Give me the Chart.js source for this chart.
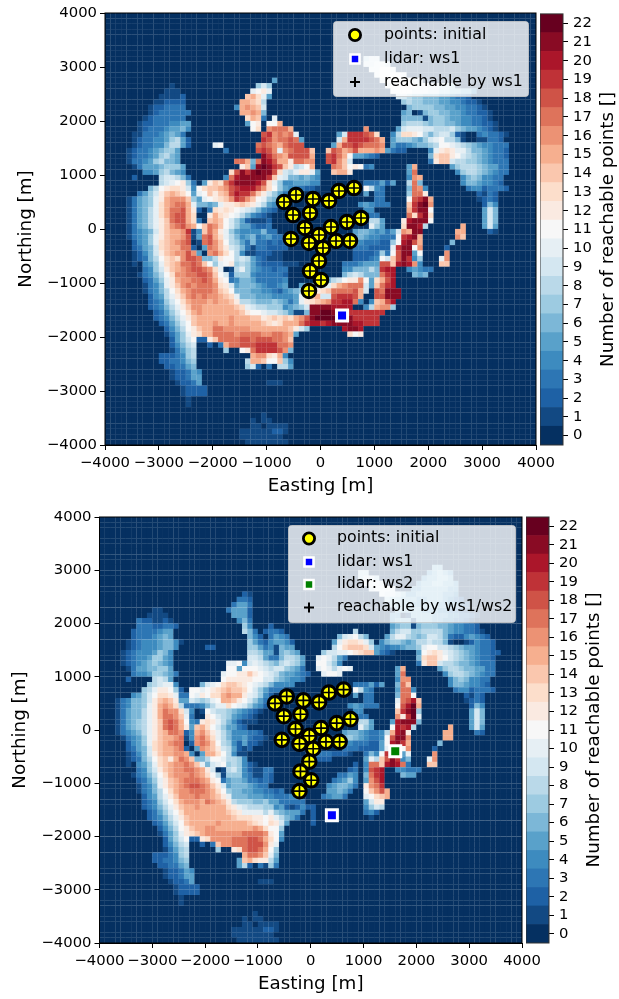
<!DOCTYPE html>
<html>
<head>
<meta charset="utf-8">
<script src="https://cdn.jsdelivr.net/npm/chart.js@4/dist/chart.umd.min.js"></script>
<style>
  body { margin: 0; background: #fff; width: 619px; height: 999px; position: relative; overflow: hidden; }
  canvas { position: absolute; }
</style>
</head>
<body>
<canvas id="mapTop" width="619" height="497" style="left:0;top:0"></canvas>
<canvas id="barTop" width="79" height="460" style="left:540px;top:0"></canvas>
<canvas id="mapBottom" width="619" height="499" style="left:0;top:500px"></canvas>
<canvas id="barBottom" width="93" height="460" style="left:526px;top:500px"></canvas>
<script>
// measurement points and lidar positions [m]
const pointsEast = [-677, -455, -140, 158, 343, 622, 752, 492, -510, -195, -288, 195, -28, -548, -214, 288, 46, 547, -28, -195, 9, -214];
const pointsNorth = [500, 630, 556, 519, 704, 759, 204, 130, 259, 296, 19, 37, -111, -185, -259, -222, -352, -222, -593, -778, -944, -1148];
const lidarWs1 = [{ x: 400, y: -1600 }];
const lidarWs2 = [{ x: 1600, y: -400 }];
const levels = [0, 1, 2, 3, 4, 5, 6, 7, 8, 9, 10, 11, 12, 13, 14, 15, 16, 17, 18, 19, 20, 21, 22];
const axisTicks = [-4000, -3000, -2000, -1000, 0, 1000, 2000, 3000, 4000];

// reachable points per 100 m cell, one row per northing from the top
// each entry is "column:values", values in base 36, everything else is 0
const tailRows = [
  '12:122354', '12:122355', '13:12235 30:111', '14:12222', '14:12222', '15:1', '15:1', '',
  '29:1', '27:1 29:11', '27:11 30:1111', '25:111111221', '25:11111111', '26:11111111'
];
const reachWs1 = [
  '', '', '', '', '', '', '', '',
  '48:899',
  '48:99aa9',
  '49:aabba',
  '50:abbbba',
  '31:5 51:abbbbba9',
  '12:1 28:797 52:abbbbbaa99887',
  '11:111 27:abca 53:bbbbaaa998877664',
  '10:11112 26:efda5 54:99877666554332',
  '9:112222 25:ffed8 55:787766655443221',
  '8:1223333 24:4fgfe9 56:677776655443321',
  '8:12333333 25:ffgf6 55:56016776655433221',
  '7:12333333 26:dfe3 31:a 55:66661677655443321',
  '6:1223334455 26:5bc 30:bbf 55:788876776654433221',
  '6:1233345564 27:bd 30:ghhhf 48:g 54:59aaa99888976554321',
  '5:1133345653 29:ijghgha 43:59jjjihd 53:48ddcb8689972100343321',
  '5:12334457852 29:jighhih5 43:9fjjjjihf 53:57776579ab88610011332',
  '5:12334468852 20:ab 28:hihgfhiii 42:5fiijihhhg 53:533456678bba9876544333',
  '4:1233456775 22:3 28:ijigaghiiie 41:eihfgifffgf 52:5322 60:4acdcaa86654332',
  '4:1233457865 29:ljhgfiiiif 41:ijhfb55432 60:6deecb987654332',
  '4:1334578665 24:hhf6hlkiffchhgg 41:ijge9 60:3cee98877654333',
  '5:1355567775 25:ce5lmljiec89bf 42:hgebcb34 56:5f 64:57888765533',
  '7:44578654 23:diljlmllid98acca5 42:effc 56:5h 65:4788765433',
  '5:2 10:899863 22:4hkllllljea9665654 56:4gf 66:46764433',
  '10:89abc73 18:5cedhjllllkida74455544 48:333525 56:8h6 66:46654432',
  '8:68bcddc94 17:bdeefgijkkkigdb75433221 48:b843 56:6hg4 67:34423332',
  '6:3579cefedb5 17:abecefikjjhec9753 48:5 50:33 56:7hhc 69:2132',
  '4:13567acfggge75abcdegjigeba7631 50:33 56:bijlf 69:1232',
  '4:13567adfghhfa6656accdedca8542 47:454333 56:ejlmg 70:264',
  '4:13568adfhhifc203dcdcba986432 48:44 56:fjllb 70:596',
  '4:13568adfhiifd00cfdcba864321 49:33 56:hdjld 70:596',
  '4:13568acehiifd30efeb97521112 49:885 55:cklllb 70:596',
  '4:13568aceghigfbehgeb97553223 49:a75 55:dllk8 66:f 70:595',
  '4:134569ceffgj14ehfca754444633 46:566545359gfll 65:ff 71:21',
  '4:13457aceffgi15hifda8645634533 46:56544333bjklf 65:ge',
  '5:2457adefghi01higeb875363323222 46:44333227bklif 64:6',
  '5:23569deffhh205hgec98631332222 46:3332222ajllbg 63:2',
  '5:12469cefggig50ghfdb841122211 46:2222373bill5b 63:g',
  '5:12368bdedgiih668cbb898532111 46:22234b9eilj47 62:ag',
  '5:10457adefhhiheb7abc787532 30:222111 44:3334555iieklkg4 62:ee',
  '7:3479cefghiihgda018a75433233 44:4466686jkk0045433',
  '6:13468bdgghhiiheb927774333332 44:6898666hjk 57:656',
  '7:2357acfgghhihfcb34665333334 41:689bccgb5dfik',
  '7:1346aceghghhhgdc95666543345 36:56789adfghhh95ehjk',
  '7:13468bdfghhhhgedb66655443245679acd 41:ehhhhif9 50:ihlll',
  '8:2458aceghghggfeda66655544445acef99ijjjif 50:iilll',
  '8:23479bdfgggfgffec88766676535acdefgjjkkh404efik',
  '8:23468aceggffffffeda98877745679llllkkkk0048fgg7',
  '9:23579bdfgfffffffecbba99875116llmmllljjjjjjj',
  '9:23468aceffffffgfffeecdededfgilmmmmmlljjjjj',
  '10:23579befffgffgfffffedcdfffhjkkjkllllkkjjj',
  '11:2468bceffhhgggggfffffffec97 44:kllk',
  '11:1357acdffhhhhghhhhgghhgf5 45:dbc',
  '12:2579b22cehhhhiihiiihhge',
  '12:2468900203fhhiiijjjjhhg',
  '12:13578 22:7 25:bchjjjjig6',
  '10:2223478 27:fggdcf4',
  '10:2233467 26:8ffebbe74',
  '11:223356 26:792030885',
  ...tailRows
];
const reachBoth = [
  '', '', '', '', '', '', '', '', '',
  '63:66',
  '49:88 62:56765',
  '49:8998 61:566776',
  '50:9aa9 60:56677665',
  '51:9aaa9 59:556666655',
  '27:21 53:a99875566666554',
  '26:332 54:877666556665432',
  '25:3553 55:766655666554432',
  '10:11 24:35552 56:66666555443321',
  '9:1111 25:5552 55:55016666555443321',
  '7:3221121 26:463 55:5666166655443321',
  '7:33322332 27:74 32:2 55:56771677766544332',
  '6:23333455 27:863 31:2332 48:8 55:689977888865443321',
  '6:23334565 28:642 32:3543 45:69ab86 54:58aa8767998632245432',
  '5:12344456641 28:753245542 44:5acddca7 53:4677656889886100124332',
  '5:1234445664 20:22 28:775341655 44:8bdeeed9 52:543445667abb99876554332',
  '4:1234445764 28:8875516765 42:799aabcdeed 52:5321 60:5bcdca9876543322',
  '4:1234457754 28:99853368875 41:aba853 60:6deecb987654332',
  '4:1234567654 24:aab49a987689875 41:bb974 60:3cee98876654333',
  '5:135566775 24:bb5bbba98997653 41:aba8aba 56:5f 64:57887665533',
  '6:344577653 23:abbccecba98655432 42:abba 56:5h 65:4788765433',
  '5:2 10:8985 23:bcccccbb99765443 56:4gg 66:46764433',
  '9:789aa4 19:69abdeedcba9864444 48:333525 56:6he 66:46654432',
  '8:78accb72 17:bbabcdefeedb975333 48:b843 56:5hh4 67:34423332',
  '6:4579bddca33 17:bacbddfgffca9742 48:5 50:33 56:6hhb 69:2132',
  '3:1346679cefec55 17:9878abffecb9753 50:33 56:ahike 69:1232',
  '3:134667acfgfd8333468aadba97542 47:454333 56:bikmf 70:264',
  '3:135668acfhggd9401b9887654321 48:44 56:ejlm7 70:596',
  '3:135668acfhhgea300cb98754321 49:33 56:gcjma 70:596',
  '3:135678acehihfb43cdca8642111 49:885 55:5klll6 70:596',
  '3:135678acehihfc5efdb975532 49:a75 55:bkjk8 66:f 70:595',
  '3:134568acefhhg24fgeca86444332 46:566543348fklc 65:ff 71:32',
  '4:13457aceffgh14ghfda864453221 46:67654334billg 65:ff',
  '5:2457adefghh02ghgeb87425221 46:44333225bkljf 64:6',
  '5:23569deffgh205gfec985212 46:33322225allbg 63:2',
  '5:12469ceffggf405ffdb8411 41:3332221 50:364bjll5a 63:g',
  '5:12368bdecfhge668bba8874 41:222 50:5a8eilj46 62:ag',
  '5:10457adefgghgea69ab787421 48:2 50:4hheklkh3 62:ee',
  '7:3479cefgghhgfc901897421133 47:23 50:4ijk 56:44333',
  '6:13468bdfggghgfdb81777431132 45:3354 50:6hjk 57:655',
  '7:2357acefghhhgfcb3566533232 44:34574 50:5gik',
  '7:1346acefghiihgec956665433 43:456653 50:cghj',
  '7:13468bdfgghhhgfdb76655443323 43:55653 50:begif',
  '8:2458aceggghggfeca6665554433344 42:34553 50:abdef',
  '8:23479bdfgggfhgfec87776675533333 50:59cc',
  '8:23468aceffgfffffdca98887745212422 50:4798',
  '9:23579bdffffffffedcaaaa8a765553 40:2 50:342',
  '9:23468aceffffffffedddccbca8653 40:2 51:1',
  '10:23579befffffgfffffedcbdc95 40:2',
  '11:2468bceffggfffffffgfdbb7',
  '11:1357acdefggggggghhhhgcb5',
  '12:2579b22cdgggghhhiihfdb4',
  '12:2468900203egghhhiiigca',
  '12:13578 22:7 25:cdhiihfb7',
  '10:2223478 27:fhhgea6',
  '10:2233467 26:5efdcc85',
  '11:223356 26:58203173',
  ...tailRows
];

const FONT = '"DejaVu Sans"';
const rdbu = ['#053061', '#2166ac', '#4393c3', '#92c5de', '#d1e5f0', '#f7f7f7', '#fddbc7', '#f4a582', '#d6604d', '#b2182b', '#67001f'];

// diverging blue to red colour for a number of reachable points
function levelColor(v) {
  const pos = v / 22 * 10;
  const i = Math.min(Math.floor(pos), 9);
  const t = pos - i;
  const a = parseInt(rdbu[i].slice(1), 16);
  const b = parseInt(rdbu[i + 1].slice(1), 16);
  const mix = s => Math.round((a >> s & 255) * (1 - t) + (b >> s & 255) * t);
  return `rgb(${mix(16)},${mix(8)},${mix(0)})`;
}

function rowsToCells(rows) {
  const cells = [];
  for (let r = 0; r < 80; r++) {
    const line = new Array(80).fill(0);
    (rows[r] || '').split(' ').filter(Boolean).forEach(span => {
      const [start, values] = span.split(':');
      [...values].forEach((ch, k) => { line[+start + k] = parseInt(ch, 36); });
    });
    line.forEach((v, c) => cells.push({ x: -3950 + 100 * c, y: 3950 - 100 * r, v }));
  }
  return cells;
}

const tickLabel = v => String(v).replace('-', '\u2212');

// box round the axes and the legend in the upper right corner
const frameAndLegend = {
  id: 'frameAndLegend',
  afterDatasetsDraw(chart, args, opts) {
    const { ctx, chartArea: a } = chart;
    ctx.save();
    ctx.strokeStyle = '#000';
    ctx.lineWidth = 1;
    ctx.strokeRect(a.left, a.top, a.right - a.left, a.bottom - a.top);
    ctx.beginPath();
    ctx.roundRect(opts.box[0], opts.box[1], opts.box[2], opts.box[3], 3);
    ctx.fillStyle = 'rgba(255,255,255,0.8)';
    ctx.fill();
    ctx.strokeStyle = 'rgba(204,204,204,0.8)';
    ctx.stroke();
    opts.items.forEach((item, i) => {
      const y = opts.rowY[i];
      ctx.fillStyle = item.fill;
      ctx.strokeStyle = item.edge;
      ctx.lineWidth = item.width;
      Chart.helpers.drawPoint(ctx, { pointStyle: item.style, radius: item.radius, rotation: 0, borderWidth: item.width }, opts.markX, y);
      ctx.fillStyle = '#000';
      ctx.font = `15.8px ${FONT}`;
      ctx.textBaseline = 'middle';
      ctx.fillText(item.label, opts.textX, y - 0.5);
    });
    ctx.restore();
  }
};

const itemPoints = { label: 'points: initial', style: 'circle', radius: 5.6, width: 2.8, fill: '#ffff00', edge: '#000' };
const itemWs1 = { label: 'lidar: ws1', style: 'rect', radius: 6.4, width: 2.6, fill: '#0000ff', edge: '#fff' };
const itemWs2 = { label: 'lidar: ws2', style: 'rect', radius: 6.4, width: 2.6, fill: '#008000', edge: '#fff' };
const itemCross = label => ({ label, style: 'cross', radius: 5, width: 2, fill: '#000', edge: '#000' });

function drawMap(id, rows, lidars, legend, frame) {
  const cells = rowsToCells(rows);
  const crossing = pointsEast.map((x, i) => ({ x, y: pointsNorth[i] }));
  const datasets = [
    {
      data: cells,
      order: 9,
      pointStyle: 'rect',
      pointRadius: frame.cell,
      pointBorderWidth: 0,
      pointBackgroundColor: cells.map(c => levelColor(c.v))
    },
    { data: crossing, order: 3, pointStyle: 'circle', pointRadius: 6.8, pointBorderWidth: 3, pointBackgroundColor: '#ffff00', pointBorderColor: '#000' },
    { data: crossing, order: 2, pointStyle: 'cross', pointRadius: 6, pointBorderWidth: 1.7, pointBorderColor: '#000' }
  ];
  lidars.forEach(l => datasets.push({
    data: l.at, order: 1, pointStyle: 'rect', pointRadius: 7.8, pointBorderWidth: 3,
    pointBackgroundColor: l.color, pointBorderColor: '#fff'
  }));

  const axis = (text, fit, pad) => ({
    type: 'linear',
    min: -4000,
    max: 4000,
    afterBuildTicks: s => { s.ticks = axisTicks.map(value => ({ value })); },
    afterFit: fit,
    grid: { drawOnChartArea: false, drawTicks: true, tickLength: 5, tickColor: '#000', tickWidth: 1 },
    border: { color: '#000', width: 1 },
    ticks: { autoSkip: false, maxRotation: 0, color: '#000', padding: pad, font: { family: FONT, size: 14.8 }, callback: tickLabel },
    title: { display: true, text, color: '#000', padding: 0, font: { family: FONT, size: 18.3 } }
  });

  return new Chart(document.getElementById(id), {
    type: 'scatter',
    data: { datasets },
    plugins: [frameAndLegend],
    options: {
      responsive: false,
      animation: false,
      events: [],
      layout: { padding: frame.padding },
      plugins: {
        legend: { display: false },
        tooltip: { enabled: false },
        frameAndLegend: legend
      },
      scales: {
        x: axis('Easting [m]', s => { s.height = frame.xHeight; }, 4),
        y: axis('Northing [m]', s => { s.width = frame.yWidth; }, 3)
      }
    }
  });
}

// title reads bottom to top, which a right hand axis title in Chart.js does not
const barFrame = {
  id: 'barFrame',
  afterDraw(chart, args, opts) {
    const { ctx, chartArea: a } = chart;
    ctx.save();
    ctx.strokeStyle = '#333';
    ctx.lineWidth = 1;
    ctx.strokeRect(a.left, a.top, a.right - a.left, a.bottom - a.top);
    ctx.translate(opts.titleX, (a.top + a.bottom) / 2);
    ctx.rotate(-Math.PI / 2);
    ctx.textAlign = 'center';
    ctx.textBaseline = 'middle';
    ctx.fillStyle = '#000';
    ctx.font = `18.3px ${FONT}`;
    ctx.fillText('Number of reachable points []', 0, 0);
    ctx.restore();
  }
};

function drawColorbar(id, frame) {
  return new Chart(document.getElementById(id), {
    type: 'bar',
    data: {
      labels: [''],
      datasets: levels.map(v => ({
        data: [[v - 0.5, v + 0.5]],
        backgroundColor: levelColor(v),
        grouped: false,
        barPercentage: 1,
        categoryPercentage: 1
      }))
    },
    plugins: [barFrame],
    options: {
      responsive: false,
      animation: false,
      events: [],
      layout: { padding: frame.padding },
      plugins: {
        legend: { display: false },
        tooltip: { enabled: false },
        barFrame: { titleX: frame.titleX }
      },
      scales: {
        x: { display: false },
        y: {
          position: 'right',
          min: -0.5,
          max: 22.5,
          afterBuildTicks: s => { s.ticks = levels.map(value => ({ value })); },
          afterFit: s => { s.width = frame.yWidth; },
          grid: { drawOnChartArea: false, tickLength: 5, tickColor: '#000' },
          border: { display: false },
          ticks: { autoSkip: false, color: '#000', padding: 5, font: { family: FONT, size: 14.8 } }
        }
      }
    }
  });
}

drawMap('mapTop', reachWs1,
  [{ at: lidarWs1, color: '#0000ff' }],
  {
    box: [333.5, 21.5, 195, 75],
    markX: 355, textX: 384, rowY: [35, 59, 82],
    items: [itemPoints, itemWs1, itemCross('reachable by ws1')]
  },
  { padding: { left: 15, right: 83, top: 13, bottom: 0 }, xHeight: 52, yWidth: 90, cell: 3.95 });

drawMap('mapBottom', reachBoth,
  [{ at: lidarWs1, color: '#0000ff' }, { at: lidarWs2, color: '#008000' }],
  {
    box: [288.5, 25.5, 227, 97],
    markX: 309, textX: 337, rowY: [38.5, 62, 84.5, 107.5],
    items: [itemPoints, itemWs1, itemWs2, itemCross('reachable by ws1/ws2')]
  },
  { padding: { left: 9, right: 97, top: 17, bottom: 4 }, xHeight: 52, yWidth: 90.5, cell: 3.88 });

drawColorbar('barTop', { padding: { left: 0, right: 0, top: 13, bottom: 15 }, yWidth: 56, titleX: 68 });
drawColorbar('barBottom', { padding: { left: 0, right: 0, top: 17, bottom: 17 }, yWidth: 70, titleX: 68 });
</script>
</body>
</html>
